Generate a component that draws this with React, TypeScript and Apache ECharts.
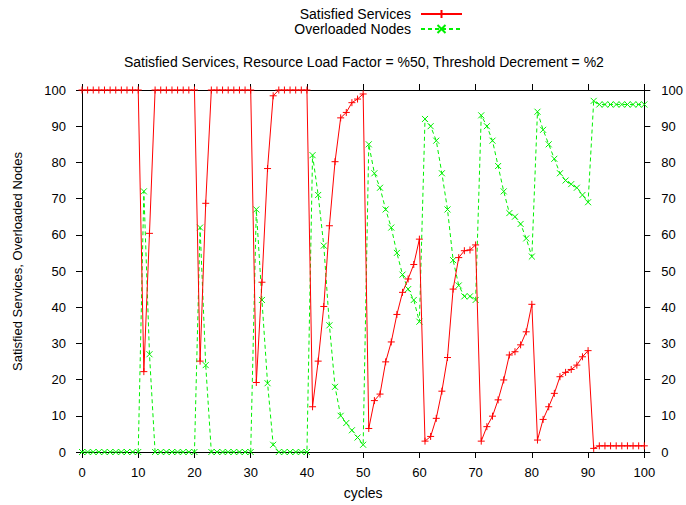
import React, { useEffect, useRef } from "react";
import * as echarts from "echarts";

const titleText = "Satisfied Services, Resource Load Factor = %50, Threshold Decrement = %2";
const seriesNames = ["Satisfied Services", "Overloaded Nodes"];
const xAxisName = "cycles";
const yAxisName = "Satisfied Services, Overloaded Nodes";

const satisfied = [
  100, 100, 100, 100, 100, 100, 100, 100, 100, 100, 100,
  22.2, 60.4,
  100, 100, 100, 100, 100, 100, 100, 100,
  25.1, 68.7,
  100, 100, 100, 100, 100, 100, 100, 100,
  19.2, 46.9, 78.3, 98.4,
  100, 100, 100, 100, 100, 100,
  12.5, 25.1, 40.2, 62.5, 80.2, 92.3, 93.8, 96.5, 97.5, 98.9,
  6.5, 14.2, 16.0, 24.9, 30.4, 38.0, 44.1, 47.8, 51.8, 58.8,
  3.0, 4.3, 9.3, 16.8, 26.1, 45.0, 53.7, 55.6, 55.8, 57.2,
  3.0, 7.0, 9.9, 14.4, 19.9, 26.8, 27.7, 29.6, 33.2, 40.8,
  3.3, 9.0, 12.5, 16.2, 20.8, 22.0, 22.8, 24.0, 26.3, 28.0,
  1.0,
  1.7, 1.7, 1.7, 1.7, 1.7, 1.7, 1.7, 1.7, 1.7,
];

const overloaded = [
  0, 0, 0, 0, 0, 0, 0, 0, 0, 0, 0,
  72, 27,
  0, 0, 0, 0, 0, 0, 0, 0,
  62, 24,
  0, 0, 0, 0, 0, 0, 0, 0,
  67, 42, 19, 2,
  0, 0, 0, 0, 0, 0,
  82, 71, 57, 35, 18, 10, 8, 6, 4, 2,
  85, 77, 73, 67, 62, 55, 49, 45, 42, 36,
  92, 90, 86, 77, 67, 53, 46, 43, 43, 42,
  93, 90, 86, 79, 72, 66, 65, 63, 59, 54,
  94, 89, 85, 81, 77, 75, 74, 73, 71, 69,
  97,
  96, 96, 96, 96, 96, 96, 96, 96, 96,
];

const FONT = "Liberation Sans, Arial, Helvetica, sans-serif";
const RED = "#ff0000";
const GREEN = "#00f000";

const PLUS = "path://M0,5L10,5M5,0L5,10";
const CROSS = "path://M0,0L10,10M10,0L0,10";

export default function App() {
  const ref = useRef<HTMLDivElement>(null);
  useEffect(() => {
    if (!ref.current) return;
    const chart = echarts.init(ref.current, undefined, { renderer: "svg" });
    const axisCommon = {
      min: 0,
      max: 100,
      interval: 10,
      axisLine: { show: true, onZero: false, lineStyle: { color: "#000", width: 1 } },
      axisTick: { show: true, inside: false, length: 6, lineStyle: { color: "#000", width: 1 } },
      splitLine: { show: false },
    };
    const labelStyle = { color: "#000", fontSize: 13, fontFamily: FONT };
    chart.setOption({
      animation: false,
      backgroundColor: "#fff",
      textStyle: { fontFamily: FONT },
      title: {
        text: titleText,
        left: 119,
        top: 50,
        textStyle: { fontSize: 14, fontWeight: "normal", color: "#000", fontFamily: FONT },
      },
      legend: {
        orient: "vertical",
        align: "right",
        right: 218,
        top: 2,
        itemWidth: 41,
        itemHeight: 10,
        itemGap: 1,
        textStyle: { fontSize: 14, color: "#000", fontFamily: FONT, padding: [0, 5, 0, 0] },
        data: seriesNames,
      },
      graphic: [
        {
          type: "text",
          x: 17,
          y: 261.5,
          rotation: Math.PI / 2,
          style: {
            text: yAxisName,
            fill: "#000",
            font: `13px ${FONT}`,
            align: "center",
            verticalAlign: "middle",
          },
        },
      ],
      grid: { left: 82, right: 41.5, top: 90, bottom: 52.5, containLabel: false },
      xAxis: [
        {
          type: "value",
          position: "bottom",
          ...axisCommon,
          name: xAxisName,
          nameLocation: "middle",
          nameGap: 34,
          nameTextStyle: { ...labelStyle, fontSize: 14 },
          axisLabel: { ...labelStyle, margin: 14 },
        },
        {
          type: "value",
          position: "top",
          ...axisCommon,
          axisLabel: { show: false },
        },
      ],
      yAxis: [
        {
          type: "value",
          position: "left",
          ...axisCommon,
          axisLabel: { ...labelStyle, margin: 16 },
        },
        {
          type: "value",
          position: "right",
          ...axisCommon,
          axisLabel: { ...labelStyle, margin: 17 },
        },
      ],
      series: [
        {
          name: seriesNames[0],
          type: "line",
          data: satisfied.map((v, i) => [i, v]),
          symbol: PLUS,
          symbolSize: 7,
          showAllSymbol: true,
          lineStyle: { color: RED, width: 1 },
          itemStyle: { color: RED, borderColor: RED, borderWidth: 1 },
          emphasis: { disabled: true },
          z: 3,
        },
        {
          name: seriesNames[1],
          type: "line",
          data: overloaded.map((v, i) => [i, v]),
          symbol: CROSS,
          symbolSize: 6,
          showAllSymbol: true,
          lineStyle: { color: GREEN, width: 1, type: [4, 3] },
          itemStyle: { color: GREEN, borderColor: GREEN, borderWidth: 1 },
          emphasis: { disabled: true },
          z: 2,
        },
      ],
    });
    return () => chart.dispose();
  }, []);
  return (
    <div
      ref={ref}
      style={{ position: "absolute", left: 0, top: 0, width: 686, height: 505 }}
    />
  );
}
